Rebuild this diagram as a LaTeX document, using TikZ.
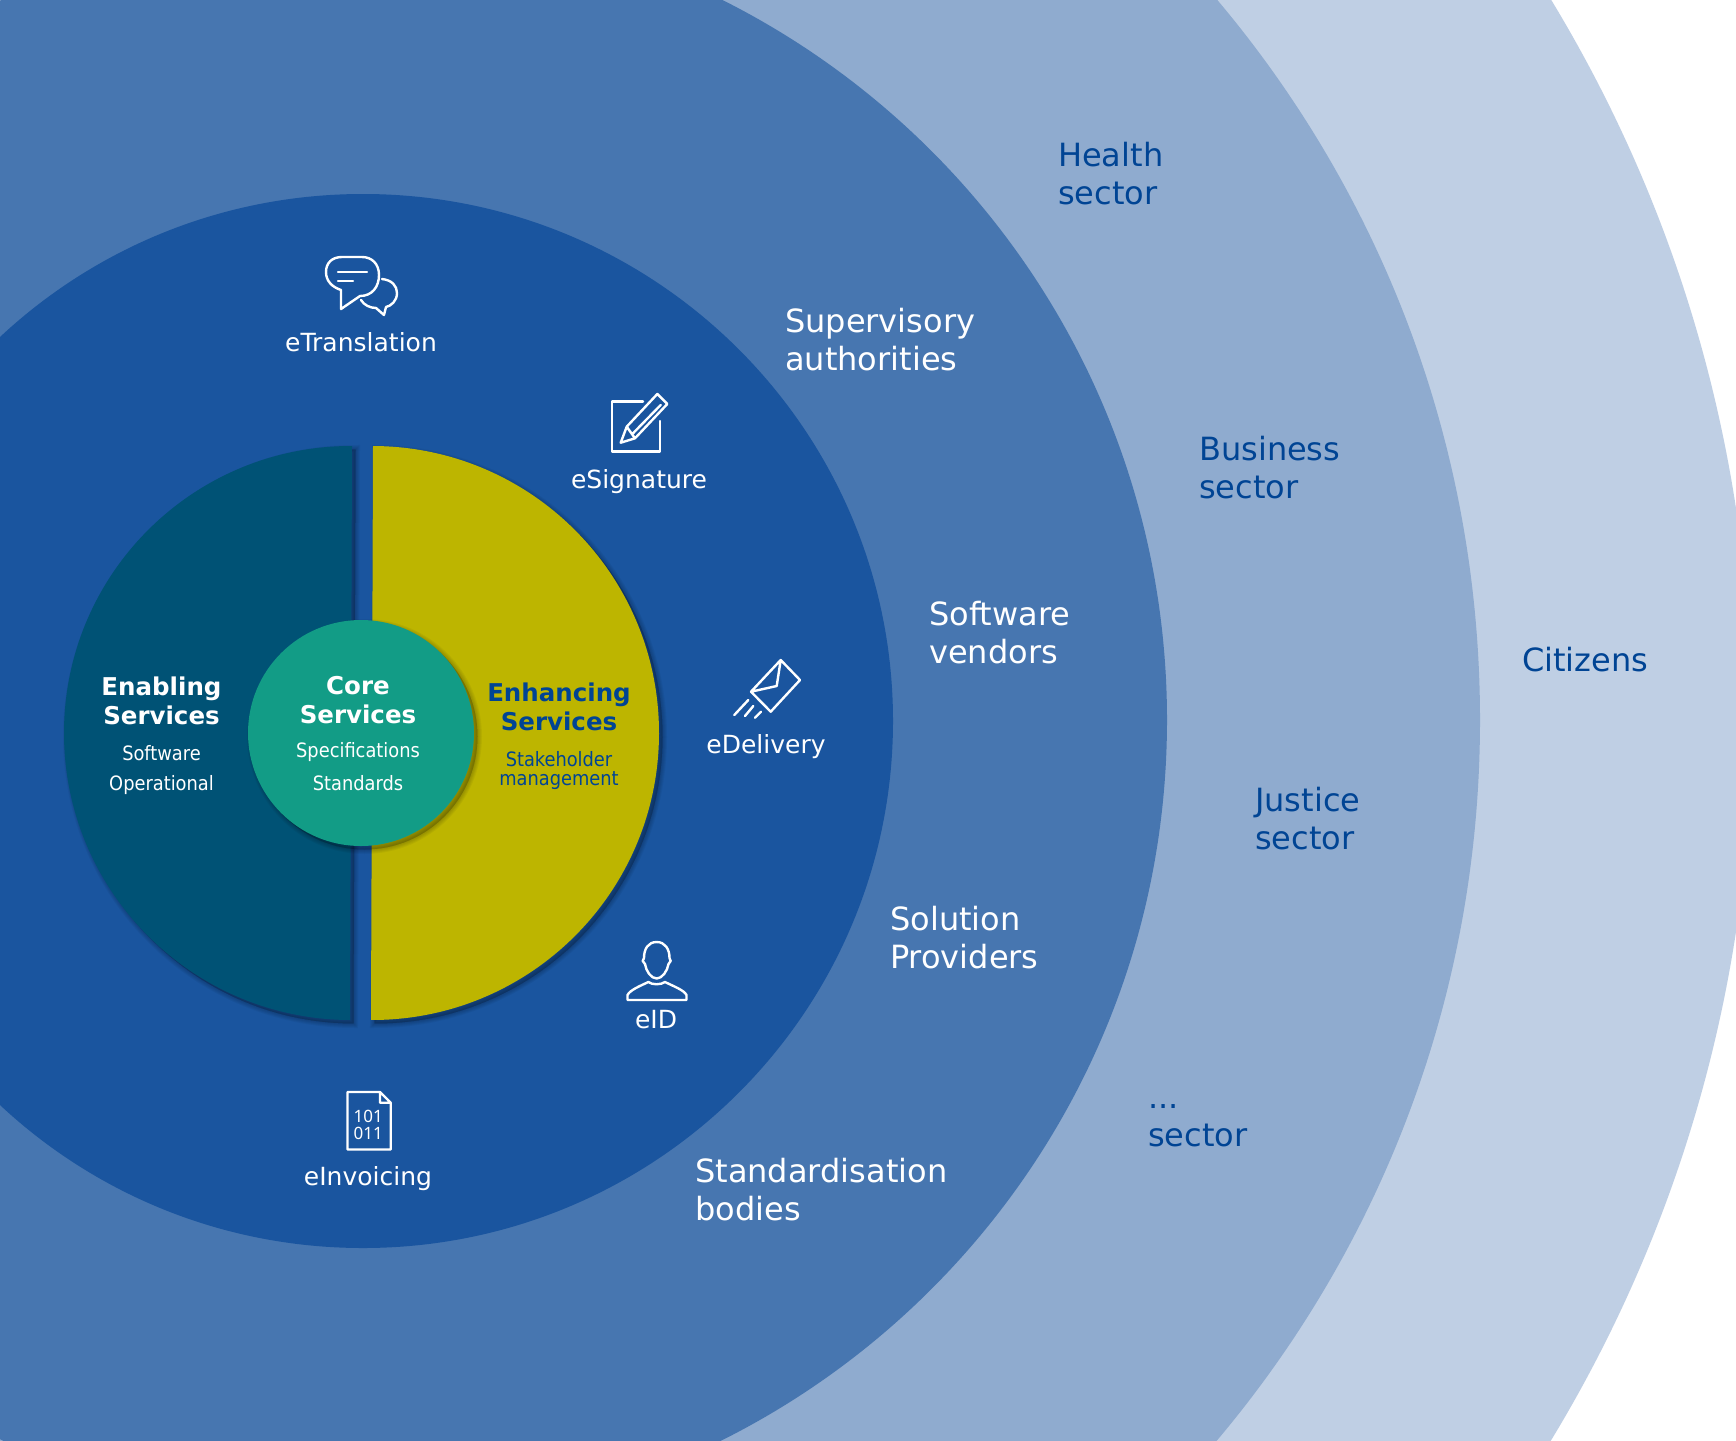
\documentclass[tikz,border=0pt]{standalone}
\usepackage{fontspec}
\setmainfont{DejaVu Sans}
\newfontfamily\condfont{DejaVu Sans Condensed}
\newfontfamily\bitsfont{Noto Sans}
\definecolor{ringfour}{RGB}{191,207,228}
\definecolor{ringthree}{RGB}{143,171,207}
\definecolor{ringtwo}{RGB}{71,118,176}
\definecolor{ringone}{RGB}{26,85,159}
\definecolor{eublue}{RGB}{0,68,148}
\definecolor{enabling}{RGB}{0,82,117}
\definecolor{enhancing}{RGB}{189,181,0}
\definecolor{core}{RGB}{18,156,134}
\newcommand{\ringlabel}[5]{\node[anchor=west,align=left,inner sep=0,text=#1,font=\fontsize{32}{38}\selectfont] (#2) at (#3,#4) {#5};}
\newcommand{\servicelabel}[4]{\node[inner sep=0,text=white,font=\fontsize{25}{28}\selectfont] (#1) at (#2,#3) {#4};}
\newcommand{\softshadow}[1]{
    \foreach \w in {9,7,5,3,1}{
      \fill[black,opacity=.045,draw=black,line width=\w pt,xshift=3.5pt,yshift=-3.5pt] #1;
    }
}
\tikzset{
  icon/.style={draw=white,line width=2.4pt,line join=round,line cap=round},
  heading/.style={inner sep=0,align=center,font=\bfseries\fontsize{24.5}{29}\selectfont},
  detail/.style={inner sep=0,font=\condfont\fontsize{19.8}{22}\selectfont},
  bits/.style={inner sep=0,text=white,font=\bitsfont\bfseries\fontsize{17}{16}\selectfont},
}
\begin{document}
\begin{tikzpicture}[x=1pt,y=-1pt]
\useasboundingbox (0,0) rectangle (1736,1440);
\clip (0,0) rectangle (1736,1440);
\fill[white] (0,0) rectangle (1736,1440);
\fill[ringfour] (362,720) circle[radius=1390];
\fill[ringthree] (362,720) circle[radius=1118];
\fill[ringtwo] (362,720) circle[radius=805];
\fill[ringone] (363,721) ellipse[x radius=530,y radius=527];
\softshadow{(352,446) arc[start angle=-89.8,end angle=-269.8,radius=287] -- cycle}
\fill[enabling] (352,446) arc[start angle=-89.8,end angle=-269.8,radius=287] -- cycle;
\softshadow{(373,446) arc[start angle=-89.8,end angle=90.2,radius=287] -- cycle}
\fill[enhancing] (373,446) arc[start angle=-89.8,end angle=90.2,radius=287] -- cycle;
\softshadow{(361,733) circle[radius=113]}
\fill[core] (361,733) circle[radius=113];
\node[heading,text=white] (enablinghead) at (161.5,700.5) {Enabling\\Services};
\node[detail,text=white] (software) at (161.5,753) {Software};
\node[detail,text=white] (operational) at (161.5,785) {Operational};
\node[heading,text=white] (corehead) at (358,700.5) {Core\\Services};
\node[detail,text=white] (specifications) at (358,752.5) {Specifications};
\node[detail,text=white] (standards) at (358,783) {Standards};
\node[heading,text=eublue] (enhancinghead) at (559,707) {Enhancing\\Services};
\node[detail,text=eublue] (stakeholder) at (559,759) {Stakeholder};
\node[detail,text=eublue] (management) at (559,781) {management};
\ringlabel{eublue}{health}{1058}{173.5}{Health\\sector}
\ringlabel{eublue}{business}{1199}{468}{Business\\sector}
\ringlabel{eublue}{justice}{1255}{819}{Justice\\sector}
\ringlabel{eublue}{other}{1148}{1126}{...\\sector}
\ringlabel{eublue}{citizens}{1522}{660}{Citizens}
\ringlabel{white}{supervisory}{785}{339.5}{Supervisory\\authorities}
\ringlabel{white}{vendors}{929}{633}{Software\\vendors}
\ringlabel{white}{providers}{890}{937.5}{Solution\\Providers}
\ringlabel{white}{bodies}{695}{1190}{Standardisation\\bodies}
\servicelabel{etranslation}{361}{342}{eTranslation}
\servicelabel{esignature}{639}{482}{eSignature}
\servicelabel{edelivery}{766}{747}{eDelivery}
\servicelabel{eid}{656}{1020}{eID}
\servicelabel{einvoicing}{368}{1179}{eInvoicing}
\draw[icon] (341,290) .. controls (332,287) and (326,281) .. (326,272) .. controls (326,263) and (332,257) .. (342,257) -- (362,257) .. controls (372,257) and (379,264) .. (379,275) .. controls (379,287) and (372,296) .. (360,296) -- (341,309) -- cycle;
\draw[icon] (382,279) .. controls (392,280) and (397,286) .. (397,293) .. controls (397,301) and (391,306) .. (386,307) -- (384,315) -- (376,308) .. controls (370,308) and (364,305) .. (361,300);
\draw[icon] (338,272)--(367,272) (338,281)--(353,281);
\draw[icon] (643,401.5)--(612,401.5)--(612,451.5)--(660,451.5)--(660,421);
\draw[icon] (620.7,442.7)--(626.7,426.7)--(657.3,394)--(667.3,404)--(635,438.3)--cycle (626.7,426.7)--(635,438.3) (633.3,433)--(660.7,405);
\draw[icon] (780.7,660)--(800,680)--(770.7,711.7)--(751,691.7)--cycle (751,691.7)--(776.7,686)--(780.7,660);
\draw[icon] (748.3,700)--(734.3,715) (753.3,706)--(745,716) (761,711.7)--(755,717.7);
\draw[icon] (656.7,942) .. controls (648,942) and (644,949) .. (644,958) -- (642.7,961) -- (645,964) .. controls (646,971) and (651,978.5) .. (656.7,978.5) .. controls (662,978.5) and (667.5,971) .. (668.5,964) -- (670.7,961) -- (669.5,958) .. controls (669.5,949) and (665,942) .. (656.7,942) -- cycle;
\draw[icon] (627.5,1000)--(627.5,995) .. controls (630,990) and (640,986) .. (648.3,982) .. controls (652,985) and (661,985) .. (665,982) .. controls (673,986) and (684,990) .. (686.5,995) -- (686.5,1000) -- cycle;
\draw[icon] (380,1092)--(347.5,1092)--(347.5,1149.5)--(390.7,1149.5)--(390.7,1102.7)--cycle (380,1092)--(380,1102.7)--(390.7,1102.7);
\node[bits] (bitsone) at (368.3,1116.7) {101};
\node[bits] (bitstwo) at (368.3,1133.3) {011};
\end{tikzpicture}
\end{document}
